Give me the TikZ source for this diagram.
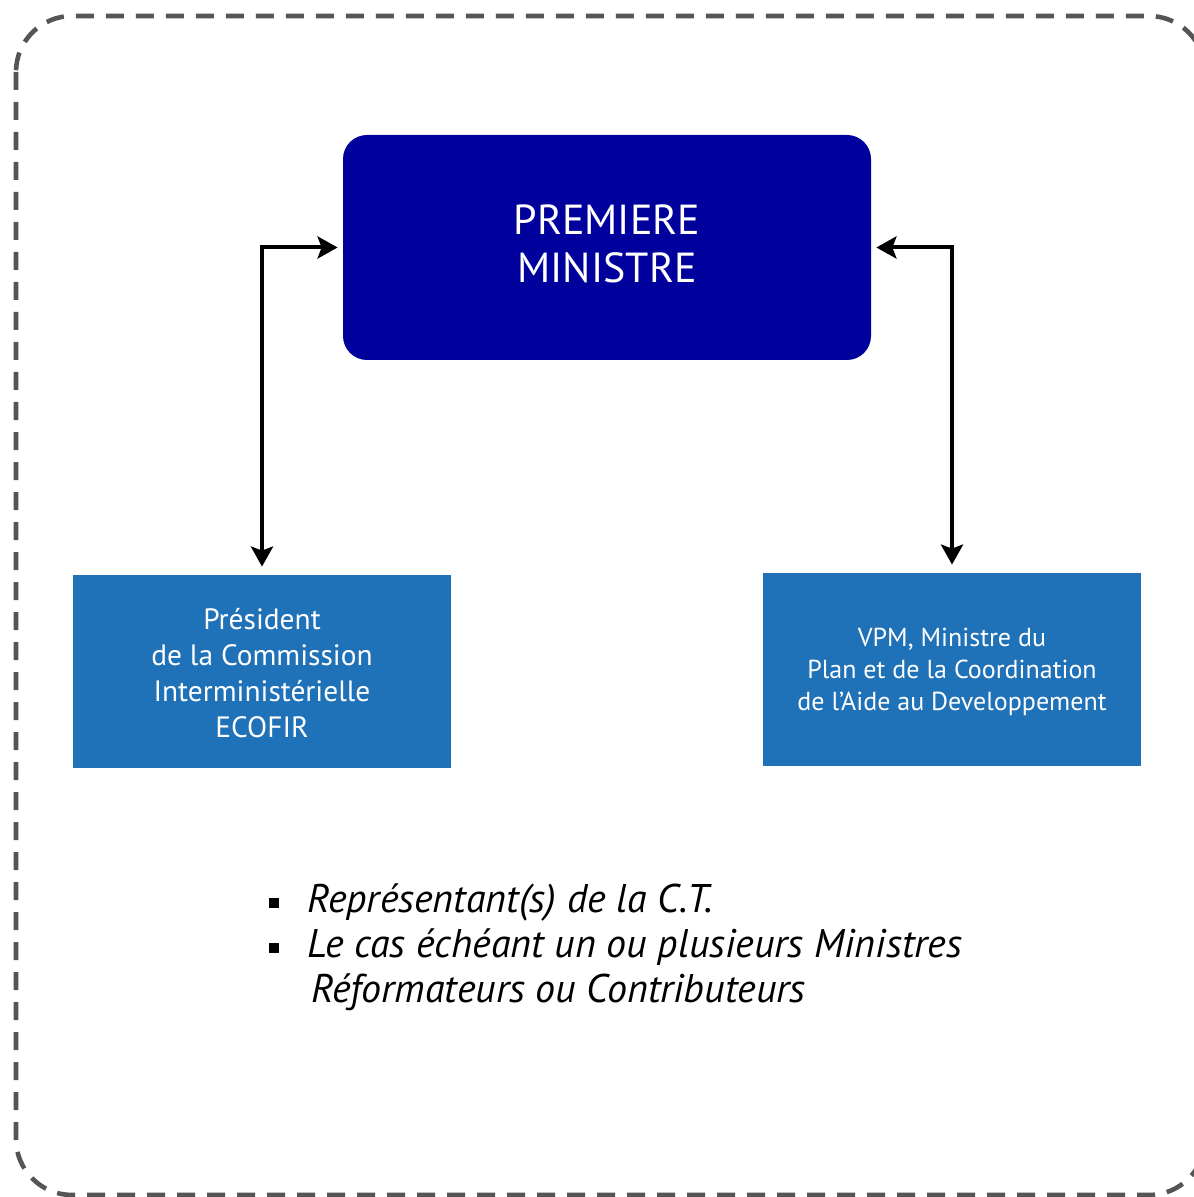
\documentclass[tikz,border=0pt]{standalone}
\usepackage{fontspec}
\setmainfont{PT Sans}
\usetikzlibrary{arrows.meta}
\definecolor{pmblue}{HTML}{00009C}
\definecolor{boxblue}{HTML}{1F71B8}
\definecolor{framegray}{HTML}{555555}
\newcommand{\sqbullet}{\rule[2.5pt]{5pt}{5pt}}
\begin{document}
\begin{tikzpicture}[x=0.5pt,y=-0.5pt,
  pmbox/.style={fill=pmblue,rounded corners=12pt,text=white,align=center,
    minimum width=264pt,minimum height=112.5pt,font=\fontsize{21}{24}\selectfont},
  sidebox/.style={fill=boxblue,text=white,align=center,
    minimum width=189pt,minimum height=96.5pt},
  link/.style={line width=2pt,{Stealth[length=10pt,width=11pt,inset=2pt]}-{Stealth[length=10pt,width=11pt,inset=2pt]},
    shorten <=2.5pt,shorten >=4pt}]
\useasboundingbox (0,0) rectangle (1193,1197);
% dashed frame
\draw [framegray,line width=2.3pt,dash pattern=on 9pt off 6pt,rounded corners=28pt]
  (16,16) rectangle (1205,1195);
\node [pmbox,text depth=4pt] (pm) at (607,247.5) {PREMIERE\\MINISTRE};
\node [sidebox,font=\fontsize{14.7}{18}\selectfont] (pres) at (262,671.5)
  {\strut Président\\de la Commission\\Interministérielle\\ECOFIR};
\node [sidebox,font=\fontsize{13}{16}\selectfont,text depth=2pt] (vpm) at (952,669.5)
  {\strut VPM, Ministre du\\Plan et de la Coordination\\de l’Aide au Developpement};
\draw [link] (pm.west) -| (pres.north);
\draw [link] (pm.east) -| (vpm.north);
% members
\node [anchor=north west,align=left,font=\fontsize{20}{22.5}\selectfont\itshape] (list) at (262,877)
  {\sqbullet\hspace{14pt}Représentant(s) de la C.T.\\
   \sqbullet\hspace{14pt}Le cas échéant un ou plusieurs Ministres\\
   \phantom{\sqbullet}\hspace{16pt}Réformateurs ou Contributeurs};
\end{tikzpicture}
\end{document}
